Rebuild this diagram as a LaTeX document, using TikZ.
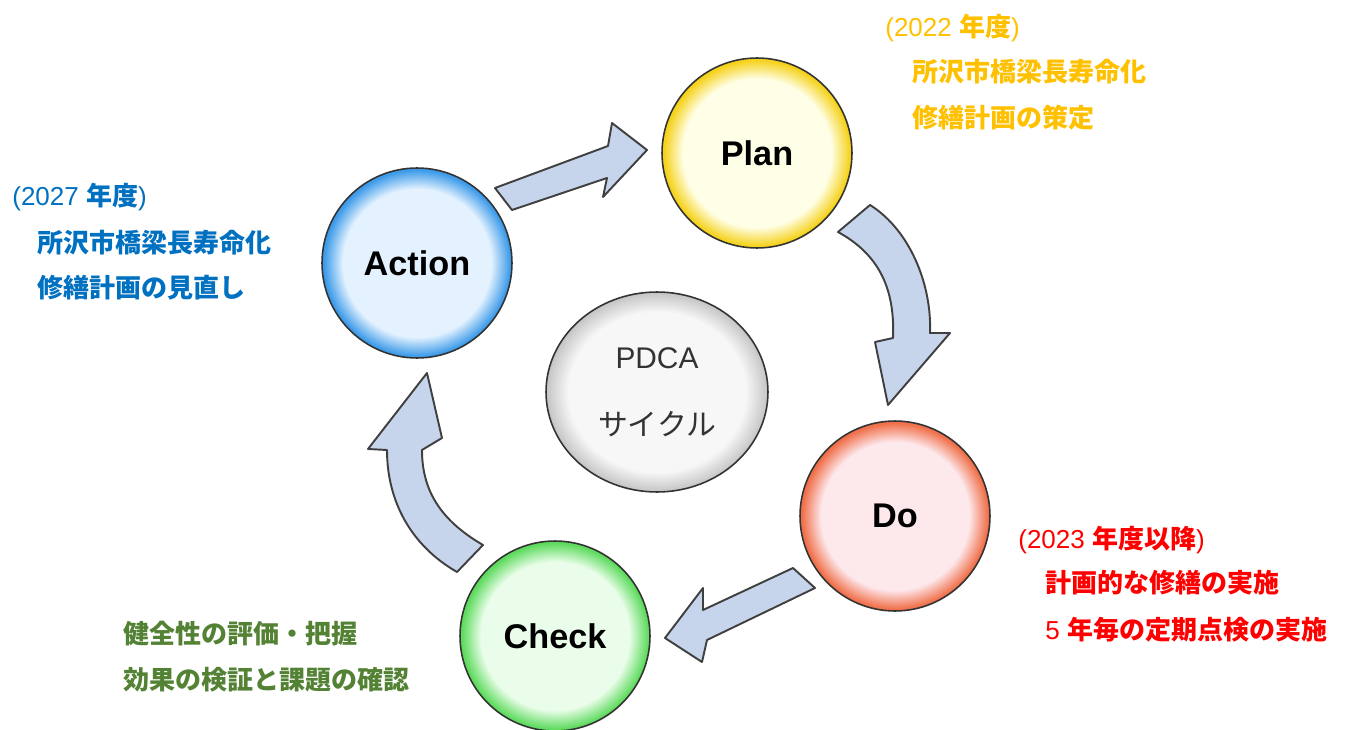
\documentclass[tikz,border=0pt]{standalone}
\usepackage{fontspec}
\setmainfont{Liberation Sans}
\newfontfamily\jpfont{Noto Sans CJK JP}
\usetikzlibrary{shapes.geometric}

\definecolor{plancore}{HTML}{FFFFE8}
\definecolor{planrim}{HTML}{F5D21C}
\definecolor{actioncore}{HTML}{E4F2FF}
\definecolor{actionrim}{HTML}{3D9BE9}
\definecolor{docore}{HTML}{FDE8EC}
\definecolor{dorim}{HTML}{F0704A}
\definecolor{checkcore}{HTML}{EAFDEA}
\definecolor{checkrim}{HTML}{5EDB5E}
\definecolor{pdcacore}{HTML}{F7F7F7}
\definecolor{pdcarim}{HTML}{C4C4C4}
\definecolor{arrowblue}{RGB}{199,213,236}
\definecolor{planyellow}{HTML}{FFC000}
\definecolor{actblue}{HTML}{0070C0}
\definecolor{dored}{HTML}{FF0000}
\definecolor{chkgreen}{HTML}{548235}

\pgfdeclareradialshading{planball}{\pgfpointorigin}{color(0bp)=(plancore); color(19.5bp)=(plancore); color(24.5bp)=(planrim); color(50bp)=(planrim)}
\pgfdeclareradialshading{actionball}{\pgfpointorigin}{color(0bp)=(actioncore); color(19.5bp)=(actioncore); color(24.5bp)=(actionrim); color(50bp)=(actionrim)}
\pgfdeclareradialshading{doball}{\pgfpointorigin}{color(0bp)=(docore); color(19.5bp)=(docore); color(24.5bp)=(dorim); color(50bp)=(dorim)}
\pgfdeclareradialshading{checkball}{\pgfpointorigin}{color(0bp)=(checkcore); color(19.5bp)=(checkcore); color(24.5bp)=(checkrim); color(50bp)=(checkrim)}
\pgfdeclareradialshading{pdcaball}{\pgfpointorigin}{color(0bp)=(pdcacore); color(20bp)=(pdcacore); color(25bp)=(pdcarim); color(50bp)=(pdcarim)}

\tikzset{
	ballnode/.style={circle, draw=black!80, line width=0.9pt, minimum size=3.8cm, inner sep=0pt, font=\fontsize{19.5}{22}\selectfont\bfseries},
	blockarrow/.style={fill=arrowblue, draw=black!75, line width=1.1pt, line join=round},
	notenode/.style={anchor=west, inner sep=0pt, font=\fontsize{14.8}{17}\selectfont}
}

\begin{document}
\begin{tikzpicture}[x=0.02cm, y=-0.02cm]
	\useasboundingbox (0,0) rectangle (1350,730);
	% PDCA circles
	\node (plan) at (757,153) [ballnode, shading=planball] {Plan};
	\node (action) at (417,263) [ballnode, shading=actionball] {Action};
	\node (do) at (895,516) [ballnode, shading=doball] {Do};
	\node (check) at (555,636) [ballnode, shading=checkball] {Check};
	\node (pdca) at (657,392) [ellipse, draw=black!80, line width=0.9pt, minimum width=4.44cm, minimum height=4cm, inner sep=0pt, shading=pdcaball, text=black!80, align=center, font=\fontsize{17}{30}\selectfont] {PDCA\\[8pt]{\jpfont サイクル}};
	% block arrows
	\draw[blockarrow] (495,188) -- (608,146) -- (612,123) -- (647,150) -- (603,197) -- (607,178) -- (512,210) -- cycle;
	\draw[blockarrow] (838,232) .. controls (880,255) and (895,290) .. (893,338) -- (875,342) -- (888,405) -- (950,333) -- (930,333) .. controls (932,285) and (910,230) .. (870,205) -- cycle;
	\draw[blockarrow] (793,568) -- (703,610) -- (703,588) -- (665,638) -- (702,662) -- (707,640) -- (815,588) -- cycle;
	\draw[blockarrow] (483,545) .. controls (440,520) and (422,490) .. (422,450) -- (442,438) -- (427,373) -- (368,449) -- (387,450) .. controls (387,500) and (410,545) .. (457,572) -- cycle;
	% notes
	\node (plannote1) at (885,28) [notenode, text=planyellow] {(2022 {\jpfont\bfseries 年度})};
	\node (plannote2) at (912,72) [notenode, text=planyellow] {\jpfont\bfseries 所沢市橋梁長寿命化};
	\node (plannote3) at (912,118) [notenode, text=planyellow] {\jpfont\bfseries 修繕計画の策定};
	\node (actnote1) at (12,197) [notenode, text=actblue] {(2027 {\jpfont\bfseries 年度})};
	\node (actnote2) at (37,243) [notenode, text=actblue] {\jpfont\bfseries 所沢市橋梁長寿命化};
	\node (actnote3) at (37,288) [notenode, text=actblue] {\jpfont\bfseries 修繕計画の見直し};
	\node (donote1) at (1018,540) [notenode, text=dored] {(2023 {\jpfont\bfseries 年度以降})};
	\node (donote2) at (1045,583) [notenode, text=dored] {\jpfont\bfseries 計画的な修繕の実施};
	\node (donote3) at (1045,630) [notenode, text=dored] {5 {\jpfont\bfseries 年毎の定期点検の実施}};
	\node (chknote1) at (123,634) [notenode, text=chkgreen] {\jpfont\bfseries 健全性の評価・把握};
	\node (chknote2) at (123,680) [notenode, text=chkgreen] {\jpfont\bfseries 効果の検証と課題の確認};
\end{tikzpicture}
\end{document}
